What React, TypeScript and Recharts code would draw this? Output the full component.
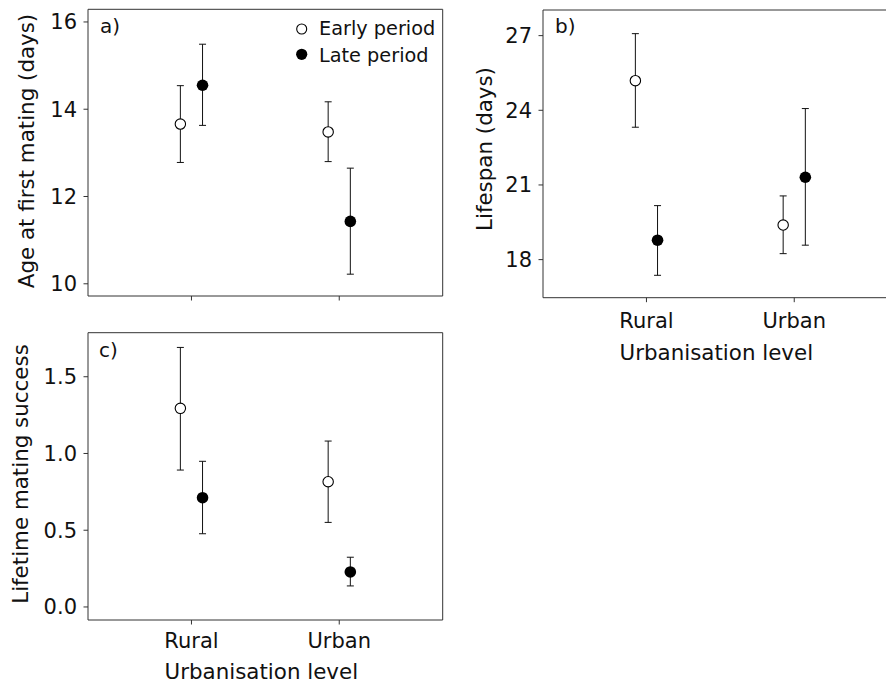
import React from 'react';
import { ScatterChart, Scatter, XAxis, YAxis, ErrorBar, ReferenceArea, Legend } from 'recharts';

// ---------- data ----------
const categories = ['Rural', 'Urban'];
const seriesNames = ['Early period', 'Late period'];

// a) Age at first mating (days)
const ageEarlyMean = [13.66, 13.48];
const ageEarlyLow = [12.78, 12.8];
const ageEarlyHigh = [14.54, 14.17];
const ageLateMean = [14.55, 11.43];
const ageLateLow = [13.63, 10.22];
const ageLateHigh = [15.49, 12.65];
const ageTicks = [10, 12, 14, 16];

// b) Lifespan (days)
const lifeEarlyMean = [25.19, 19.39];
const lifeEarlyLow = [23.32, 18.24];
const lifeEarlyHigh = [27.08, 20.56];
const lifeLateMean = [18.78, 21.31];
const lifeLateLow = [17.37, 18.58];
const lifeLateHigh = [20.17, 24.07];
const lifeTicks = [18, 21, 24, 27];

// c) Lifetime mating success
const lmsEarlyMean = [1.294, 0.816];
const lmsEarlyLow = [0.892, 0.551];
const lmsEarlyHigh = [1.691, 1.081];
const lmsLateMean = [0.712, 0.228];
const lmsLateLow = [0.477, 0.137];
const lmsLateHigh = [0.949, 0.324];
const lmsTicks = [0, 0.5, 1.0, 1.5];

// ---------- styling ----------
const FONT = '"DejaVu Sans", Verdana, sans-serif';
const INK = '#111111';
const FRAME = '#333333';
const X_DOMAIN: [number, number] = [0.3, 2.7];
const DODGE = 0.075;
const TICK_FS = 21;
const TITLE_FS = 21.4;

function build(mean: number[], low: number[], high: number[], dodge: number) {
  return categories.map((c, i) => ({
    cat: c,
    x: i + 1 + dodge,
    y: mean[i],
    err: [mean[i] - low[i], high[i] - mean[i]],
  }));
}

const openDot = (props: any) => (
  <circle cx={props.cx} cy={props.cy} r={5.2} fill="#ffffff" stroke="#000000" strokeWidth={1.1} />
);
const filledDot = (props: any) => (
  <circle cx={props.cx} cy={props.cy} r={5.8} fill="#000000" />
);

const legendContent = () => (
  <svg width={160} height={60} style={{ display: 'block', overflow: 'visible' }}>
    {seriesNames.map((n, i) => (
      <g key={n}>
        {i === 0 ? (
          <circle cx={13.7} cy={21 + i * 25.3} r={5} fill="#fff" stroke="#000" strokeWidth={1.1} />
        ) : (
          <circle cx={13.7} cy={21 + i * 25.3} r={5.6} fill="#000" />
        )}
        <text x={31} y={27.3 + i * 26.4} fontSize={19.3} fontFamily={FONT} fill={INK}>
          {n}
        </text>
      </g>
    ))}
  </svg>
);

function Panel(p: any) {
  const early = build(p.earlyMean, p.earlyLow, p.earlyHigh, -DODGE);
  const late = build(p.lateMean, p.lateLow, p.lateHigh, DODGE);
  const plotCenter = 88 + (p.width - 88 - p.margin.right) / 2;
  return (
    <div style={{ position: 'absolute', left: p.left, top: p.top }}>
      <ScatterChart width={p.width} height={p.height} margin={p.margin} style={{ fontFamily: FONT }}>
        <XAxis
          type="number"
          dataKey="x"
          domain={X_DOMAIN}
          ticks={[1, 2]}
          interval={0}
          allowDataOverflow
          axisLine={false}
          tickLine={{ stroke: FRAME }}
          tickSize={4.5}
          tickMargin={p.xTickMargin}
          height={p.xAxisHeight}
          tick={{ fontSize: TICK_FS, fill: INK, fontFamily: FONT }}
          tickFormatter={(v: number) => (p.showXLabels ? categories[Math.round(v) - 1] : '')}
        />
        <YAxis
          type="number"
          dataKey="y"
          domain={p.yDomain}
          ticks={p.yTicks}
          interval={0}
          allowDataOverflow
          axisLine={false}
          tickLine={{ stroke: FRAME }}
          tickSize={4.5}
          tickMargin={6.5}
          width={88}
          tick={{ fontSize: TICK_FS, fill: INK, fontFamily: FONT }}
          tickFormatter={p.yFmt}
        />
        <ReferenceArea
          x1={X_DOMAIN[0]}
          x2={X_DOMAIN[1]}
          y1={p.yDomain[0]}
          y2={p.yDomain[1]}
          fill="none"
          fillOpacity={0}
          stroke={FRAME}
          strokeWidth={1}
          strokeOpacity={1}
          ifOverflow="visible"
        />
        <Scatter name={seriesNames[0]} data={early} dataKey="y" fill="#ffffff" isAnimationActive={false} shape={openDot}>
          <ErrorBar dataKey="err" direction="y" width={3.5} stroke={INK} strokeWidth={1} isAnimationActive={false} />
        </Scatter>
        <Scatter name={seriesNames[1]} data={late} dataKey="y" fill="#000000" isAnimationActive={false} shape={filledDot}>
          <ErrorBar dataKey="err" direction="y" width={3.5} stroke={INK} strokeWidth={1} isAnimationActive={false} />
        </Scatter>
        {p.legend ? (
          <Legend
            layout="vertical"
            align="center"
            verticalAlign="middle"
            wrapperStyle={{ position: 'absolute', left: 288, top: 8, width: 160, height: 60 }}
            content={legendContent}
          />
        ) : null}
        <text x={p.tagX} y={p.tagY} fontSize={20} fontFamily={FONT} fill={INK}>
          {p.tag}
        </text>
        <text
          x={p.yTitleX}
          y={p.yTitleY}
          transform={`rotate(-90 ${p.yTitleX} ${p.yTitleY})`}
          textAnchor="middle"
          fontSize={TITLE_FS}
          fontFamily={FONT}
          fill={INK}
        >
          {p.yTitle}
        </text>
        {p.xTitle ? (
          <text x={plotCenter - 4} y={p.xTitleY} textAnchor="middle" fontSize={TITLE_FS} fontFamily={FONT} fill={INK}>
            {p.xTitle}
          </text>
        ) : null}
      </ScatterChart>
    </div>
  );
}

export default function App() {
  return (
    <div
      style={{
        position: 'absolute',
        left: 0,
        top: 0,
        width: 886,
        height: 681,
        overflow: 'hidden',
        background: '#ffffff',
        fontFamily: FONT,
      }}
    >
      <Panel
        left={0}
        top={0}
        width={450}
        height={310}
        margin={{ top: 9.3, right: 7.3, bottom: 0, left: 0 }}
        xAxisHeight={14}
        xTickMargin={10}
        showXLabels={false}
        yDomain={[9.72, 16.29]}
        yTicks={ageTicks}
        yFmt={(v: number) => String(v)}
        earlyMean={ageEarlyMean}
        earlyLow={ageEarlyLow}
        earlyHigh={ageEarlyHigh}
        lateMean={ageLateMean}
        lateLow={ageLateLow}
        lateHigh={ageLateHigh}
        tag="a)"
        tagX={100}
        tagY={33.3}
        yTitle="Age at first mating (days)"
        yTitleX={33.5}
        yTitleY={151}
        legend
      />
      <Panel
        left={455}
        top={0}
        width={460}
        height={370}
        margin={{ top: 10, right: 17.3, bottom: 0, left: 0 }}
        xAxisHeight={72.3}
        xTickMargin={11}
        showXLabels
        yDomain={[16.47, 28.03]}
        yTicks={lifeTicks}
        yFmt={(v: number) => String(v)}
        earlyMean={lifeEarlyMean}
        earlyLow={lifeEarlyLow}
        earlyHigh={lifeEarlyHigh}
        lateMean={lifeLateMean}
        lateLow={lifeLateLow}
        lateHigh={lifeLateHigh}
        tag="b)"
        tagX={100}
        tagY={33.3}
        yTitle="Lifespan (days)"
        yTitleX={37}
        yTitleY={149}
        xTitle="Urbanisation level"
        xTitleY={359.5}
      />
      <Panel
        left={0}
        top={323}
        width={450}
        height={358}
        margin={{ top: 9.7, right: 7.3, bottom: 0, left: 0 }}
        xAxisHeight={61}
        xTickMargin={9}
        showXLabels
        yDomain={[-0.085, 1.787]}
        yTicks={lmsTicks}
        yFmt={(v: number) => v.toFixed(1)}
        earlyMean={lmsEarlyMean}
        earlyLow={lmsEarlyLow}
        earlyHigh={lmsEarlyHigh}
        lateMean={lmsLateMean}
        lateLow={lmsLateLow}
        lateHigh={lmsLateHigh}
        tag="c)"
        tagX={99}
        tagY={34.3}
        yTitle="Lifetime mating success"
        yTitleX={28}
        yTitleY={151}
        xTitle="Urbanisation level"
        xTitleY={356}
      />
    </div>
  );
}
